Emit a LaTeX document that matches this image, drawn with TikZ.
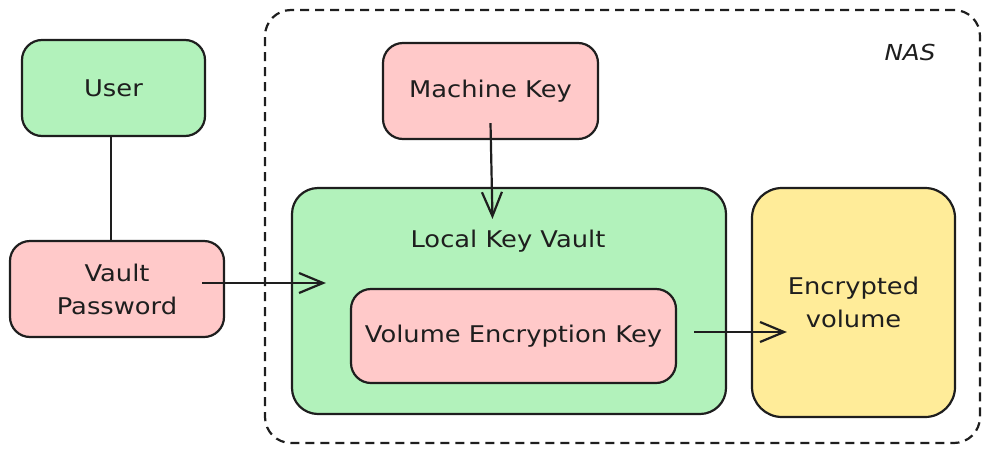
\documentclass[tikz,border=0pt]{standalone}
\usepackage{fontspec}
\setmainfont[FakeStretch=1.12]{DejaVu Sans}
\usetikzlibrary{arrows.meta,calc}
\definecolor{gfill}{HTML}{B2F2BB}
\definecolor{pfill}{HTML}{FFC9C9}
\definecolor{yfill}{HTML}{FFEC99}
\definecolor{ink}{HTML}{1E1E1E}
\tikzset{
  box/.style={draw=ink, line width=2.2pt, rounded corners=20pt, inner sep=0pt, align=center, text=ink, font=\fontsize{23}{33}\selectfont},
  lbl/.style={text=ink, font=\fontsize{23}{33}\selectfont, inner sep=0pt},
  arr/.style={draw=ink, line width=2.2pt, -{Straight Barb[length=24pt,width=20pt,line width=2.2pt]}},
  conn/.style={draw=ink, line width=2.2pt},
  nas/.style={draw=ink, line width=2.2pt, dash pattern=on 9pt off 6pt, rounded corners=26pt}
}
\begin{document}
\begin{tikzpicture}[x=1pt,y=-1pt]
\useasboundingbox (0,0) rectangle (990,453);
% NAS container
\node[nas, minimum width=715pt, minimum height=433pt, inner sep=0pt] (nasbox) at (622.5,226.5) {};
\node[lbl, font=\fontsize{22}{24}\selectfont\itshape] (naslbl) at (910,52) {NAS};
% left side
\node[box, fill=gfill, minimum width=183pt, minimum height=96pt] (user) at (113.5,88) {User};
\node[box, fill=pfill, minimum width=214pt, minimum height=96pt] (vp) at (117,289) {Vault\\Password};
% NAS contents
\node[box, fill=pfill, minimum width=215pt, minimum height=96pt] (mk) at (490.5,91) {Machine Key};
\node[box, fill=gfill, minimum width=434pt, minimum height=226pt, rounded corners=26pt] (lkv) at (509,301) {};
\node[lbl] (lkvlbl) at (508,241) {Local Key Vault};
\node[box, fill=pfill, minimum width=325pt, minimum height=94pt] (vek) at (513.5,336) {Volume Encryption Key};
\node[box, fill=yfill, minimum width=203pt, minimum height=229pt, rounded corners=30pt] (ev) at (853.5,302.5) {Encrypted\\volume};
% connectors
\draw[conn] (user.south -| 111,0) -- (vp.north -| 111,0);
\draw[arr] ($(mk.south)+(0,-17)$) -- ($(mk.south |- lkv.north)+(2,32)$);
\draw[arr] ($(vp.east)+(-23,-6)$) -- ($(lkv.west)+(35,-18)$);
\draw[arr] ($(vek.east)+(17,-4)$) -- ($(ev.west)+(36,29.5)$);
\end{tikzpicture}
\end{document}
